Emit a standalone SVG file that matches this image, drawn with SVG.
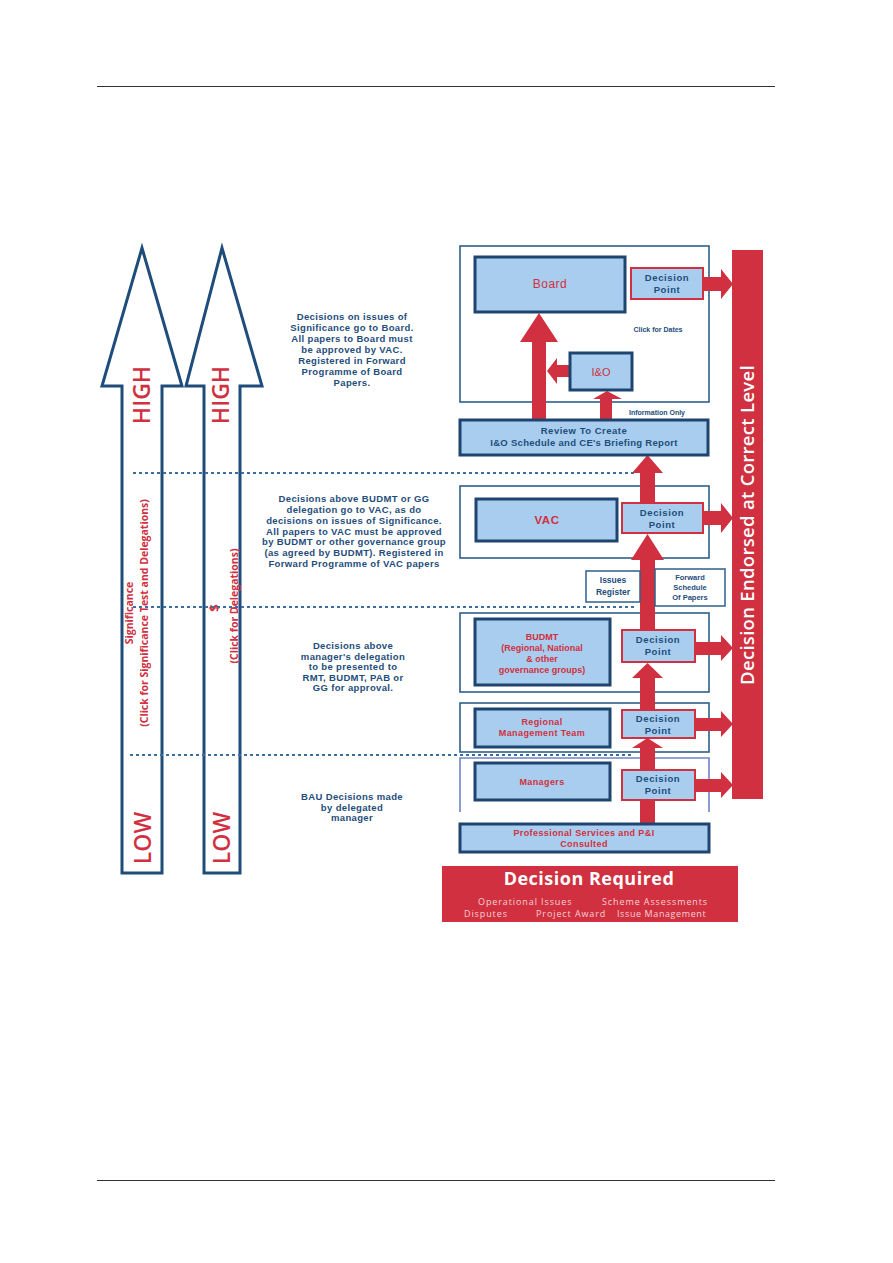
<svg xmlns="http://www.w3.org/2000/svg" width="893" height="1263" viewBox="0 0 893 1263">
<defs>
<style>
.rule{stroke:#333;stroke-width:1}
.bigarrow{fill:#fff;stroke:#1e4d7b;stroke-width:3;stroke-linejoin:miter}
.dots{stroke:#3d6f9e;stroke-width:2;stroke-dasharray:3 3;fill:none}
.outer{fill:#fff;stroke:#2e5f8a;stroke-width:1.6}
.inner{fill:#a8cdee;stroke:#1e4470;stroke-width:3}
.dp{fill:#a8cdee;stroke:#d0303f;stroke-width:2}
.note{fill:#fff;stroke:#2e5f8a;stroke-width:1.5}
.red{fill:#d0303f}
.t{font-family:"Liberation Sans",Arial,sans-serif;font-weight:bold;text-anchor:middle}
.nav{fill:#1e4d7b}
.rt{fill:#d0303f}
.reg{font-weight:normal}
.desc{font-size:9.5px;letter-spacing:0.35px}
.dpt{font-size:9.5px;fill:#1e4d7b;letter-spacing:0.6px}
.side{font-family:"Open Sans","Liberation Sans",sans-serif;text-anchor:middle;fill:#d0303f}
.big{font-size:23px;font-weight:600}
</style>
</defs>
<rect width="893" height="1263" fill="#fff"/>
<line class="rule" x1="97" y1="86.5" x2="775" y2="86.5"/>
<line class="rule" x1="97" y1="1180.5" x2="775" y2="1180.5"/>

<g id="arrow-significance">
<polygon class="bigarrow" points="142,248 182,386 162,386 162,873 122,873 122,386 102,386"/>
<text class="side big" transform="translate(150,395) rotate(-90)">HIGH</text>
<text class="side big" transform="translate(151,838) rotate(-90)">LOW</text>
<text class="side" font-size="10.5" font-weight="bold" transform="translate(133,613) rotate(-90)">Significance</text>
<text class="side" font-size="10.5" font-weight="bold" transform="translate(148,613) rotate(-90)">(Click for Significance Test and Delegations)</text>
</g>
<g id="arrow-delegations">
<polygon class="bigarrow" points="222,248 262,386 240,386 240,873 204,873 204,386 186,386"/>
<text class="side big" transform="translate(229,395) rotate(-90)">HIGH</text>
<text class="side big" transform="translate(230,838) rotate(-90)">LOW</text>
<text class="side" font-size="13" font-weight="bold" transform="translate(219,608) rotate(-90)">$</text>
<text class="side" font-size="10.5" font-weight="bold" transform="translate(238,606) rotate(-90)">(Click for Delegations)</text>
</g>

<g id="level-lines">
<line class="dots" x1="133" y1="473" x2="637" y2="473"/>
<line class="dots" x1="133" y1="607" x2="637" y2="607"/>
<line class="dots" x1="130" y1="755" x2="632" y2="755"/>
</g>

<g id="desc-board" class="t nav desc">
<text x="352" y="320">Decisions on issues of</text>
<text x="352" y="331">Significance go to Board.</text>
<text x="352" y="342">All papers to Board must</text>
<text x="352" y="353">be approved by VAC.</text>
<text x="352" y="364">Registered in Forward</text>
<text x="352" y="375">Programme of Board</text>
<text x="352" y="386">Papers.</text>
</g>
<g id="desc-vac" class="t nav desc">
<text x="354" y="502">Decisions above BUDMT or GG</text>
<text x="354" y="513">delegation go to VAC, as do</text>
<text x="354" y="524">decisions on issues of Significance.</text>
<text x="354" y="535">All papers to VAC must be approved</text>
<text x="354" y="545">by BUDMT or other governance group</text>
<text x="354" y="556">(as agreed by BUDMT). Registered in</text>
<text x="354" y="567">Forward Programme of VAC papers</text>
</g>
<g id="desc-budmt" class="t nav desc">
<text x="353" y="649">Decisions above</text>
<text x="353" y="660">manager's delegation</text>
<text x="353" y="670">to be presented to</text>
<text x="353" y="681">RMT, BUDMT, PAB or</text>
<text x="353" y="691">GG for approval.</text>
</g>
<g id="desc-bau" class="t nav desc">
<text x="352" y="800">BAU Decisions made</text>
<text x="352" y="811">by delegated</text>
<text x="352" y="821">manager</text>
</g>

<g id="endorsed-bar">
<rect class="red" x="732" y="250" width="31" height="549"/>
<text font-family="'Open Sans','Liberation Sans',sans-serif" font-size="18.5" font-weight="600" fill="#fff" text-anchor="middle" letter-spacing="0.3" transform="translate(754,525) rotate(-90)">Decision Endorsed at Correct Level</text>
</g>

<g id="zones">
<rect class="outer" x="460" y="246" width="249" height="156"/>
<rect class="outer" x="460" y="486" width="249" height="72"/>
<rect class="outer" x="460" y="613" width="249" height="79"/>
<rect class="outer" x="460" y="703" width="249" height="49"/>
<path d="M460,812 V758 H709 V812" fill="none" stroke="#7184c8" stroke-width="1.6"/>
</g>

<g id="connectors">
<polygon class="red" points="640,823 640,800 655,800 655,823"/>
<polygon class="red" points="640,770 640,748 632,748 647.5,738 663,748 655,748 655,770"/>
<polygon class="red" points="640,710 640,678 632,678 647.5,663 663,678 655,678 655,710"/>
<polygon class="red" points="640,630 640,560 631,560 647.5,534 664,560 655,560 655,630"/>
<polygon class="red" points="640,503 640,473 632,473 647.5,455 663,473 655,473 655,503"/>
<polygon class="red" points="532,420 532,342 520,342 539,313 558,342 546,342 546,420"/>
<polygon class="red" points="600,420 600,399 593,399 607,391 622,399 612,399 612,420"/>
<polygon class="red" points="569,365 557,365 557,358 547,371 557,384 557,377 569,377"/>
<polygon class="red" points="703,277 721,277 721,269 733,284 721,299 721,291 703,291"/>
<polygon class="red" points="703,511 721,511 721,503 733,518 721,533 721,525 703,525"/>
<polygon class="red" points="695,642 721,642 721,635 733,648 721,661 721,655 695,655"/>
<polygon class="red" points="695,718 721,718 721,711 733,724 721,737 721,731 695,731"/>
<polygon class="red" points="695,779 721,779 721,772 733,785 721,798 721,792 695,792"/>
</g>

<g id="board">
<rect class="inner" x="475" y="257" width="150" height="55"/>
<text class="t rt reg" x="550" y="288" font-size="12" letter-spacing="0.5">Board</text>
</g>
<g id="dp-board">
<rect class="dp" x="631" y="268" width="72" height="31"/>
<text class="t dpt" x="667" y="281">Decision</text>
<text class="t dpt" x="667" y="293">Point</text>
</g>
<text class="t nav" x="658" y="332" font-size="7">Click for Dates</text>
<g id="io">
<rect class="inner" x="570" y="353" width="62" height="37" stroke-width="2.5"/>
<text class="t rt reg" x="601" y="376" font-size="11">I&amp;O</text>
</g>
<text class="t nav" x="657" y="415" font-size="7">Information  Only</text>
<g id="review">
<rect class="inner" x="460" y="420" width="248" height="35"/>
<text class="t nav" x="584" y="434" font-size="9.5" letter-spacing="0.5">Review To Create</text>
<text class="t nav" x="584" y="446" font-size="9.5" letter-spacing="0.3">I&amp;O Schedule and CE's Briefing Report</text>
</g>

<g id="vac">
<rect class="inner" x="476" y="499" width="141" height="42"/>
<text class="t rt" x="547" y="524" font-size="11.5" letter-spacing="0.5">VAC</text>
</g>
<g id="dp-vac">
<rect class="dp" x="622" y="503" width="81" height="30"/>
<text class="t dpt" x="662" y="516">Decision</text>
<text class="t dpt" x="662" y="528">Point</text>
</g>
<g id="issues-register">
<rect class="note" x="586" y="571" width="54" height="31"/>
<text class="t nav" x="613" y="583" font-size="8.5">Issues</text>
<text class="t nav" x="613" y="595" font-size="8.5">Register</text>
</g>
<g id="forward-schedule">
<rect class="note" x="655" y="569" width="70" height="37"/>
<text class="t nav" x="690" y="580" font-size="7.5">Forward</text>
<text class="t nav" x="690" y="590" font-size="7.5">Schedule</text>
<text class="t nav" x="690" y="600" font-size="7.5">Of Papers</text>
</g>

<g id="budmt">
<rect class="inner" x="475" y="619" width="135" height="66"/>
<text class="t rt" x="542" y="640" font-size="9">BUDMT</text>
<text class="t rt" x="542" y="651" font-size="9">(Regional, National</text>
<text class="t rt" x="542" y="662" font-size="9">&amp; other</text>
<text class="t rt" x="542" y="673" font-size="9">governance groups)</text>
</g>
<g id="dp-budmt">
<rect class="dp" x="622" y="630" width="73" height="32"/>
<text class="t dpt" x="658" y="643">Decision</text>
<text class="t dpt" x="658" y="655">Point</text>
</g>

<g id="rmt">
<rect class="inner" x="475" y="709" width="135" height="38"/>
<text class="t rt" x="542" y="725" font-size="9" letter-spacing="0.4">Regional</text>
<text class="t rt" x="542" y="736" font-size="9" letter-spacing="0.4">Management Team</text>
</g>
<g id="dp-rmt">
<rect class="dp" x="622" y="710" width="73" height="28"/>
<text class="t dpt" x="658" y="722">Decision</text>
<text class="t dpt" x="658" y="734">Point</text>
</g>

<g id="managers">
<rect class="inner" x="475" y="763" width="135" height="37"/>
<text class="t rt" x="542" y="785" font-size="9" letter-spacing="0.4">Managers</text>
</g>
<g id="dp-managers">
<rect class="dp" x="622" y="770" width="73" height="30"/>
<text class="t dpt" x="658" y="782">Decision</text>
<text class="t dpt" x="658" y="794">Point</text>
</g>

<g id="professional">
<rect class="inner" x="460" y="824" width="249" height="28"/>
<text class="t rt" x="584" y="836" font-size="9" letter-spacing="0.4">Professional Services and P&amp;I</text>
<text class="t rt" x="584" y="847" font-size="9" letter-spacing="0.4">Consulted</text>
</g>

<g id="decision-required">
<rect class="red" x="442" y="866" width="296" height="56"/>
<text x="589" y="885" font-family="'Open Sans','Liberation Sans',sans-serif" font-weight="bold" font-size="18" letter-spacing="0.5" fill="#fff" text-anchor="middle">Decision Required</text>
<g font-family="'Open Sans','Liberation Sans',sans-serif" font-size="9" letter-spacing="0.9" fill="#f7d0d4">
<text x="478" y="905">Operational Issues</text>
<text x="602" y="905">Scheme Assessments</text>
<text x="464" y="917">Disputes</text>
<text x="536" y="917">Project Award</text>
<text x="617" y="917" letter-spacing="0.6">Issue Management</text>
</g>
</g>
</svg>
